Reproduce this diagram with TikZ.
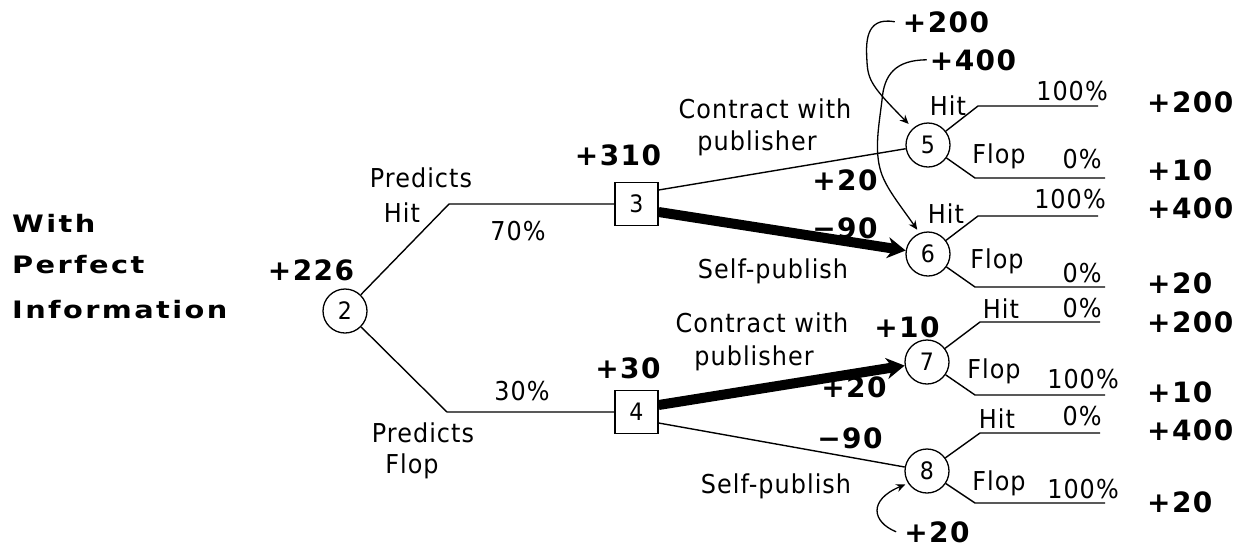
\documentclass[tikz,border=0pt]{standalone}
\usepackage{fontspec}
\newfontfamily\rgfont{DejaVu Sans}[FakeStretch=0.92,LetterSpace=4]
\newfontfamily\bdfont{DejaVu Sans}[LetterSpace=5]
\newfontfamily\ttlfont{DejaVu Sans}[FakeStretch=1.2,LetterSpace=10]
\usetikzlibrary{arrows.meta}
\newcommand{\mns}{\symbol{"2212}}
\begin{document}
\begin{tikzpicture}[x=1pt,y=-1pt,
  lbl/.style={font=\rgfont\fontsize{26}{28}\selectfont, inner sep=0pt, anchor=base},
  val/.style={font=\bdfont\bfseries\fontsize{28}{30}\selectfont, inner sep=0pt, anchor=base},
  rval/.style={val, anchor=base west},
  ttl/.style={font=\ttlfont\bfseries\fontsize{24}{26}\selectfont, inner sep=0pt, anchor=west},
  chance/.style={circle, draw, line width=1.3pt, minimum size=44pt, inner sep=0pt, font=\rgfont\fontsize{24}{26}\selectfont},
  decision/.style={rectangle, draw, line width=1.3pt, minimum size=43pt, inner sep=0pt, font=\rgfont\fontsize{24}{26}\selectfont},
  thinline/.style={line width=1.4pt},
  best/.style={line width=10pt, -{Stealth[length=18pt,width=21pt]}},
  pointer/.style={line width=1.3pt, -{Stealth[length=9pt,width=8pt]}}
]
\useasboundingbox (0,0) rectangle (1251,550);

% title
\node[ttl] (t1) at (12,223) {With};
\node[ttl] (t2) at (12,265) {Perfect};
\node[ttl] (t3) at (12,310) {Information};

% nodes
\node[chance] (n2) at (345,311) {2};
\node[decision] (b3) at (636.5,204) {3};
\node[decision] (b4) at (636.5,412) {4};
\node[chance] (n5) at (928,145) {5};
\node[chance] (n6) at (928,254) {6};
\node[chance] (n7) at (927,362) {7};
\node[chance] (n8) at (927,471) {8};

% corners
\coordinate (c2a) at (449,204);
\coordinate (c2b) at (447,412);
\coordinate (h5) at (978,106); \coordinate (h5e) at (1098,106);
\coordinate (f5) at (975,178); \coordinate (f5e) at (1105,178);
\coordinate (h6) at (978,216); \coordinate (h6e) at (1098,216);
\coordinate (f6) at (975,287); \coordinate (f6e) at (1105,287);
\coordinate (h7) at (980,322); \coordinate (h7e) at (1100,322);
\coordinate (f7) at (975,395); \coordinate (f7e) at (1105,395);
\coordinate (h8) at (980,433); \coordinate (h8e) at (1100,433);
\coordinate (f8) at (975,503); \coordinate (f8e) at (1105,503);

% tree lines
\draw[thinline] (n2) -- (c2a) -- (b3);
\draw[thinline] (n2) -- (c2b) -- (b4);
\draw[thinline] ([yshift=14pt]b3.east) -- (n5);
\draw[best] ([yshift=-8pt]b3.east) -- (n6);
\draw[best] ([yshift=7pt]b4.east) -- (n7);
\draw[thinline] ([yshift=-11pt]b4.east) -- (n8);
\foreach \n in {5,6,7,8}{
  \draw[thinline] (n\n) -- (h\n) -- (h\n e);
  \draw[thinline] (n\n) -- (f\n) -- (f\n e);
}

% left labels
\node[val] (v226) at (311,280) {+226};
\node[lbl] (ph1) at (421,187) {Predicts};
\node[lbl] (ph2) at (402,222) {Hit};
\node[lbl] (p70) at (518,240) {70\%};
\node[lbl] (p30) at (522,400) {30\%};
\node[lbl] (pf1) at (423,442) {Predicts};
\node[lbl] (pf2) at (412,473) {Flop};
\node[val] (v310) at (618,165) {+310};
\node[val] (v30) at (628,378) {+30};

% decision labels (upper)
\node[lbl] (cu1) at (765,118) {Contract with};
\node[lbl] (cu2) at (757,150) {publisher};
\node[val] (vu20) at (845,190) {+20};
\node[val] (vu90) at (845,238) {\mns90};
\node[lbl] (su) at (773,278) {Self-publish};
% decision labels (lower)
\node[lbl] (cl1) at (762,332) {Contract with};
\node[lbl] (cl2) at (754,365) {publisher};
\node[val] (vl10) at (907,337) {+10};
\node[val] (vl20) at (854,397) {+20};
\node[val] (vl90) at (850,448) {\mns90};
\node[lbl] (sl) at (776,493) {Self-publish};

% outcome labels
\node[lbl] (l5h) at (948,115) {Hit};
\node[lbl] (l5hp) at (1072,100) {100\%};
\node[lbl] (l5f) at (999,163) {Flop};
\node[lbl] (l5fp) at (1082,168) {0\%};
\node[lbl] (l6h) at (946,223) {Hit};
\node[lbl] (l6hp) at (1070,208) {100\%};
\node[lbl] (l6f) at (997,268) {Flop};
\node[lbl] (l6fp) at (1082,282) {0\%};
\node[lbl] (l7h) at (1001,318) {Hit};
\node[lbl] (l7hp) at (1082,317) {0\%};
\node[lbl] (l7f) at (994,378) {Flop};
\node[lbl] (l7fp) at (1083,388) {100\%};
\node[lbl] (l8h) at (997,428) {Hit};
\node[lbl] (l8hp) at (1082,425) {0\%};
\node[lbl] (l8f) at (999,490) {Flop};
\node[lbl] (l8fp) at (1083,498) {100\%};

% payoffs
\node[rval] (r1) at (1147,112) {+200};
\node[rval] (r2) at (1147,180) {+10};
\node[rval] (r3) at (1147,218) {+400};
\node[rval] (r4) at (1147,293) {+20};
\node[rval] (r5) at (1147,332) {+200};
\node[rval] (r6) at (1147,402) {+10};
\node[rval] (r7) at (1147,440) {+400};
\node[rval] (r8) at (1147,512) {+20};

% pointer values
\node[val] (a200) at (946,32) {+200};
\node[val] (a400) at (973,70) {+400};
\node[val] (a20) at (937,542) {+20};

\draw[pointer, shorten >=6pt] ([xshift=-8pt]a200.west) .. controls (864,16) and (866,45) .. (867,62)
   .. controls (868,80) and (872,87) .. (n5.132);
\draw[pointer, shorten >=4pt] ([xshift=-3pt]a400.west) .. controls (895,60) and (884,75) .. (882,100)
   .. controls (879,125) and (874,150) .. (881,172)
   .. controls (886,188) and (900,205) .. (n6.112);
\draw[pointer, shorten >=3pt] ([xshift=-8pt]a20.west) .. controls (872,522) and (868,500) .. (n8.213);
\end{tikzpicture}
\end{document}
